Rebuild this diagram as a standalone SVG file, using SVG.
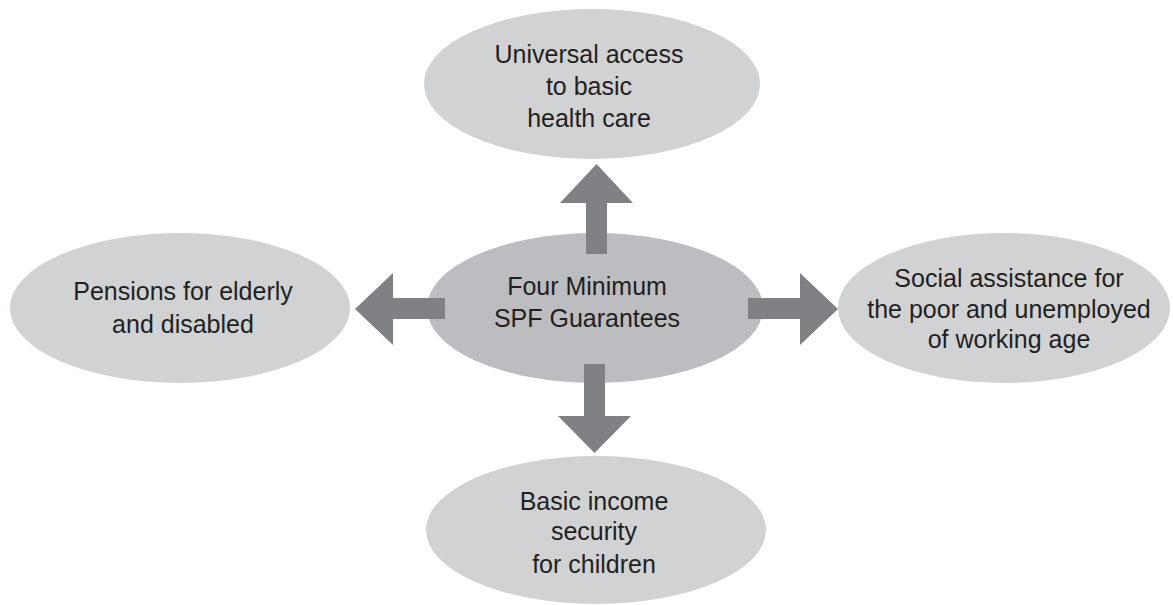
<svg xmlns="http://www.w3.org/2000/svg" width="1173" height="605" viewBox="0 0 1173 605">
<style>
.outer{fill:#d1d2d4}
.center{fill:#bcbdc0}
.arrow{fill:#808184}
text{font-family:"Liberation Sans",Arial,sans-serif;font-size:25px;fill:#231f20;text-anchor:middle}
</style>
<rect width="1173" height="605" fill="#ffffff"/>
<g id="node-health">
<ellipse class="outer" cx="592" cy="84" rx="168" ry="75"/>
<text x="589" y="63">Universal access</text>
<text x="589" y="95">to basic</text>
<text x="589" y="127">health care</text>
</g>
<g id="node-pensions">
<ellipse class="outer" cx="180" cy="308" rx="170" ry="75"/>
<text x="183" y="300">Pensions for elderly</text>
<text x="183" y="333">and disabled</text>
</g>
<g id="node-social">
<ellipse class="outer" cx="1004" cy="308" rx="166" ry="75"/>
<text x="1009" y="287">Social assistance for</text>
<text x="1009" y="318">the poor and unemployed</text>
<text x="1009" y="348">of working age</text>
</g>
<g id="node-children">
<ellipse class="outer" cx="596" cy="530" rx="170" ry="74"/>
<text x="594" y="510">Basic income</text>
<text x="594" y="540">security</text>
<text x="594" y="573">for children</text>
</g>
<g id="node-center">
<ellipse class="center" cx="595" cy="308" rx="168" ry="75"/>
<text x="587" y="295">Four Minimum</text>
<text x="587" y="327">SPF Guarantees</text>
</g>
<g id="connectors">
<polygon class="arrow" points="586,254 607,254 607,203 633,203 596.5,164 560,203 586,203"/>
<polygon class="arrow" points="445,298 445,319 393,319 393,345 355,309 393,273 393,298"/>
<polygon class="arrow" points="748,298 748,319 800,319 800,345 838,309 800,273 800,298"/>
<polygon class="arrow" points="584,364 605,364 605,416 631,416 594.5,453 558,416 584,416"/>
</g>
</svg>
